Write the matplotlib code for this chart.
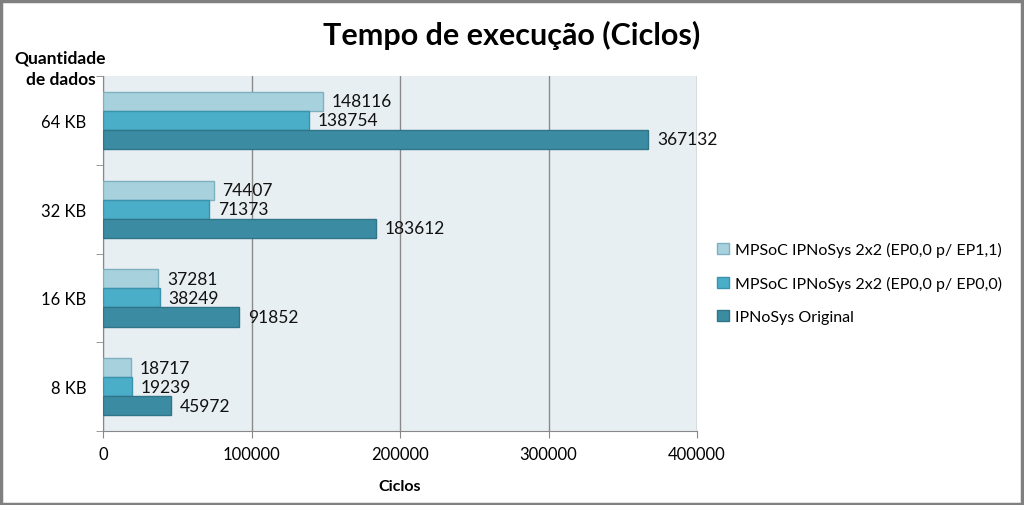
import numpy as np
import matplotlib
matplotlib.use("Agg")
import matplotlib.pyplot as plt
from matplotlib.patches import Rectangle

plt.rcParams['font.family'] = ['Lato', 'DejaVu Sans']

categories = ["8 KB", "16 KB", "32 KB", "64 KB"]
series_names = [
    "MPSoC IPNoSys 2x2 (EP0,0 p/ EP1,1)",
    "MPSoC IPNoSys 2x2 (EP0,0 p/ EP0,0)",
    "IPNoSys Original",
]
ep11 = [18717, 37281, 74407, 148116]
ep00 = [19239, 38249, 71373, 138754]
original = [45972, 91852, 183612, 367132]
x_ticks = [0, 100000, 200000, 300000, 400000]

colors = ["#a8d1de", "#4aaec8", "#3b8ca3"]
edges = ["#7fb0c0", "#3a93ab", "#2f7488"]

fig = plt.figure(figsize=(10.24, 5.06), dpi=100)
ax = fig.add_axes([0.1006, 0.1462, 0.5801, 0.7016])
ax.set_facecolor("#e8eff3")

y = np.arange(len(categories))
h = 0.215
offsets = [h, 0, -h]
all_series = [ep11, ep00, original]
for vals, off, c, ec, name in zip(all_series, offsets, colors, edges, series_names):
    ax.barh(y + off, vals, height=h, color=c, edgecolor=ec, linewidth=1, label=name, zorder=3)
    for yi, v in zip(y, vals):
        ax.text(v + 6000, yi + off, str(v), va="center", ha="left", fontsize=12.5, color="#111111", zorder=4)

ax.set_xlim(0, 400000)
ax.set_ylim(-0.5, 3.5)
ax.set_xticks(x_ticks)
ax.set_xticklabels([str(t) for t in x_ticks], fontsize=12)
ax.set_yticks(y)
ax.set_yticklabels(categories, fontsize=12)
ax.set_yticks(np.arange(-0.5, 4.0, 1.0), minor=True)
ax.tick_params(axis="y", which="major", length=0, pad=12)
ax.tick_params(axis="y", which="minor", length=5, color="#888888")
ax.tick_params(axis="x", length=5, color="#888888", pad=6)
ax.grid(axis="x", color="#8a8a8a", linewidth=1, zorder=1)
for s in ["top", "right"]:
    ax.spines[s].set_visible(False)
for s in ["left", "bottom"]:
    ax.spines[s].set_color("#888888")

ax.set_xlabel("Ciclos", fontsize=11.5, fontweight="bold", labelpad=12)
fig.text(0.059, 0.863, "Quantidade\nde dados", ha="center", va="center",
         fontsize=12.5, fontweight="bold", linespacing=1.45)
fig.suptitle("Tempo de execução (Ciclos)", fontsize=22, fontweight="bold", x=0.5, y=0.958)

ax.legend(loc="center left", bbox_to_anchor=(1.01, 0.417), frameon=False,
          fontsize=11.5, handlelength=0.7, handleheight=0.7, handletextpad=0.4,
          labelspacing=1.2)

fig.patches.append(Rectangle((0.001, 0.002), 0.997, 0.995, transform=fig.transFigure,
                             fill=False, edgecolor="#808080", linewidth=2.5))

fig.savefig("out.png", dpi=100)
